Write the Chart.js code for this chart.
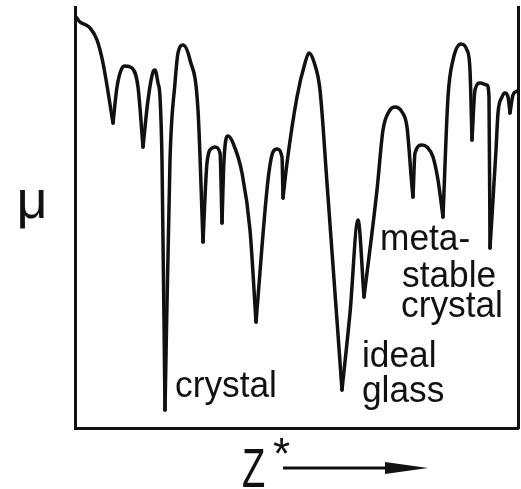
<!DOCTYPE html>
<html><head><meta charset="utf-8">
<script src="https://cdn.jsdelivr.net/npm/chart.js@4/dist/chart.umd.min.js"></script>
<style>html,body{margin:0;padding:0;background:#fff;}#wrap{width:521px;height:489px;}</style>
</head><body><div id="wrap"><canvas id="c" width="521" height="489"></canvas></div>
<script>
// Z* (arbitrary units, left axis = 0) and mu (arbitrary units, bottom axis = 0)
const zStar = [1,5,11,15,22,28,38,42,47,50,57,63,68,73,78,80,83,85,87,90,95,100,103,108,115,123,128,132,137,140,145,147,149,153,158,167,175,181,193,198,202,207,208,212,222,230,234,239,245,252,267,275,283,289,302,308,315,320,327,332,337,338,340,347,352,358,363,368,373,378,386,392,395,397,400,405,412,414,415,421,423,427,430,433,435,438,442];
const mu    = [411,406,403,400,388,365,305,341,360,362,360,341,281,328,356,358,345,331,268,18,268,345,375,383,368,318,186,265,280,281,275,205,268,292,285,255,198,106,248,276,279,271,230,265,331,365,375,366,338,245,38,115,208,131,238,298,318,321,316,301,241,231,275,283,281,271,248,211,331,368,384,378,358,288,338,345,343,331,180,278,315,331,335,331,315,333,337];
const zRange = [0,443];
const muRange = [0,421];
// annotations: text and anchor (Z*, mu) of the left end of the baseline
const labelText = ['crystal','ideal','glass','meta-','stable','crystal'];
const labelZ    = [100,287,287,305,327,326];
const labelMu   = [31,61,26,178,141,111];
const yTitle = 'μ';
const xTitle = ['Z','*'];

// split the curve at its cusps (local minima) so arches are smooth and cusps stay sharp
const cusps = [0];
for (let i = 1; i < mu.length - 1; i++) if (mu[i] < mu[i-1] && mu[i] < mu[i+1]) cusps.push(i);
cusps.push(mu.length - 1);
const datasets = [];
for (let k = 0; k < cusps.length - 1; k++) {
  const pts = [];
  for (let i = cusps[k]; i <= cusps[k+1]; i++) pts.push({x: zStar[i], y: mu[i]});
  datasets.push({data: pts, borderColor:'#111', borderWidth:3.5, pointRadius:0, fill:false,
    cubicInterpolationMode:'monotone', borderCapStyle:'round', borderJoinStyle:'round'});
}

const ink = '#111';
const textPlugin = {
  id:'texts',
  afterDraw(chart){
    const {ctx, chartArea:ca, scales:{x,y}} = chart;
    ctx.save();
    ctx.fillStyle = ink; ctx.strokeStyle = ink;
    ctx.textBaseline = 'alphabetic'; ctx.textAlign = 'left';
    ctx.font = '36px "Liberation Sans", Arial, sans-serif';
    labelText.forEach((t,i)=>{
      const px = x.getPixelForValue(labelZ[i]), py = y.getPixelForValue(labelMu[i]);
      ctx.save(); ctx.translate(px,py); ctx.scale(0.98,1); ctx.fillText(t,0,0); ctx.restore();
    });
    // y title
    ctx.font = '54px "Liberation Sans", Arial, sans-serif';
    ctx.textAlign = 'center';
    ctx.fillText(yTitle, ca.left - 43, (ca.top+ca.bottom)/2);
    // x title Z*
    ctx.textAlign = 'left';
    ctx.save(); ctx.translate(ca.left+167, ca.bottom+59); ctx.scale(0.68,1);
    ctx.font = '56px "Liberation Sans", Arial, sans-serif';
    ctx.fillText(xTitle[0],0,0); ctx.restore();
    ctx.font = '44px "Liberation Sans", Arial, sans-serif';
    ctx.fillText(xTitle[1], ca.left+198, ca.bottom+41);
    // arrow
    const ay = ca.bottom + 40;
    ctx.lineWidth = 3;
    ctx.beginPath(); ctx.moveTo(ca.left+208, ay); ctx.lineTo(ca.left+318, ay); ctx.stroke();
    ctx.beginPath(); ctx.moveTo(ca.left+310, ay-6); ctx.lineTo(ca.left+353, ay); ctx.lineTo(ca.left+310, ay+6); ctx.closePath(); ctx.fill();
    ctx.restore();
  }
};

const axisCommon = {ticks:{display:false}, grid:{display:false}, border:{display:true, width:3, color:ink}};
new Chart(document.getElementById('c'), {
  type:'line',
  data:{datasets},
  options:{
    responsive:false, animation:false,
    layout:{padding:{left:75, right:3, top:7, bottom:61}},
    plugins:{legend:{display:false}, tooltip:{enabled:false}},
    scales:{
      x:{type:'linear', min:zRange[0], max:zRange[1], ...axisCommon, afterFit(s){s.height=0;}},
      y:{type:'linear', min:muRange[0], max:muRange[1], ...axisCommon, afterFit(s){s.width=0;}},
      y2:{type:'linear', position:'right', min:muRange[0], max:muRange[1], ...axisCommon, afterFit(s){s.width=0;}}
    }
  },
  plugins:[textPlugin]
});
</script>
</body></html>
